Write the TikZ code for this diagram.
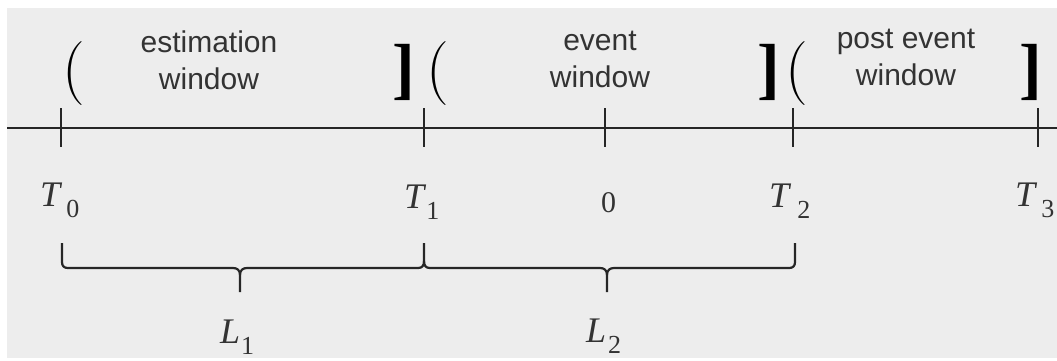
\documentclass[tikz,border=0pt]{standalone}
\usepackage{fontspec}
\setmainfont{Liberation Serif}
\setsansfont{Liberation Sans}
\newfontfamily\parenfont{Latin Modern Roman}
\begin{document}
\begin{tikzpicture}[x=1pt,y=-1pt,
  winlbl/.style={font=\sffamily\fontsize{30}{37}\selectfont,text=black!80,align=center,inner sep=0pt,anchor=north},
  brk/.style={font=\fontsize{68}{68}\selectfont\bfseries,inner sep=0pt,anchor=base},
  opn/.style={font=\parenfont\fontsize{64}{64}\selectfont,inner sep=0pt,anchor=base},
  ticklbl/.style={inner sep=0pt,anchor=base west,text=black!80},
  tickmark/.style={line width=1.6pt,black!85},
  axisline/.style={line width=2.8pt,black!85},
  bracepath/.style={line width=2.2pt,black!85,line join=round}]
\useasboundingbox (0,0) rectangle (1057,360);
\fill[white] (0,0) rectangle (1057,360);
\fill[black!7] (7,8) rectangle (1057,358);
% axis
\coordinate (A0) at (7,128);
\coordinate (A1) at (1057,128);
\draw[axisline] (A0) -- (A1);
% ticks
\foreach \n/\x in {t0/61,t1/424,tz/605,t2/793,t3/1038}{
  \coordinate (\n) at (\x,128);
  \draw[tickmark] (\x,108) -- (\x,147);
}
% brackets
\node[opn] (b0) at (74,89) {(};
\node[brk] (b1) at (404,91) {]};
\node[opn] (b2) at (438,89) {(};
\node[brk] (b3) at (769,91) {]};
\node[opn] (b4) at (797,89) {(};
\node[brk] (b5) at (1031,91) {]};
% window labels
\node[winlbl] (w1) at (209,31) {estimation\\window};
\node[winlbl] (w2) at (600,31) {event\\window};
\node[winlbl] (w3) at (906,29) {post event\\window};
% tick labels
\newcommand{\mysub}[3]{\textit{\fontsize{36}{36}\selectfont #1}\hspace{#3}\raisebox{-11pt}{\fontsize{26}{26}\selectfont #2}}
\node[ticklbl] (T0) at (40,206) {\mysub{T}{0}{4pt}};
\node[ticklbl] (T1) at (404,208) {\mysub{T}{1}{0pt}};
\node[ticklbl] (Z) at (601,212) {\fontsize{30}{30}\selectfont 0};
\node[ticklbl] (T2) at (769,207) {\mysub{T}{2}{6pt}};
\node[ticklbl] (T3) at (1015,206) {\mysub{T}{3}{4pt}};
% braces
\draw[bracepath] (62,243) -- (62,262) .. controls (62,266) and (64,268) .. (68,268)
  -- (233,268) .. controls (237,268) and (240,270) .. (240,275) -- (240,292);
\draw[bracepath] (240,275) .. controls (240,270) and (243,268) .. (247,268)
  -- (418,268) .. controls (422,268) and (424,266) .. (424,261) -- (424,243);
\draw[bracepath] (424,261) .. controls (424,266) and (426,268) .. (430,268)
  -- (600,268) .. controls (604,268) and (607,270) .. (607,275) -- (607,292);
\draw[bracepath] (607,275) .. controls (607,270) and (610,268) .. (614,268)
  -- (789,268) .. controls (793,268) and (795,266) .. (795,262) -- (795,243);
% brace labels
\node[ticklbl] (L1) at (220,343) {\mysub{L}{1}{1pt}};
\node[ticklbl] (L2) at (586,342) {\mysub{L}{2}{2pt}};
\end{tikzpicture}
\end{document}
